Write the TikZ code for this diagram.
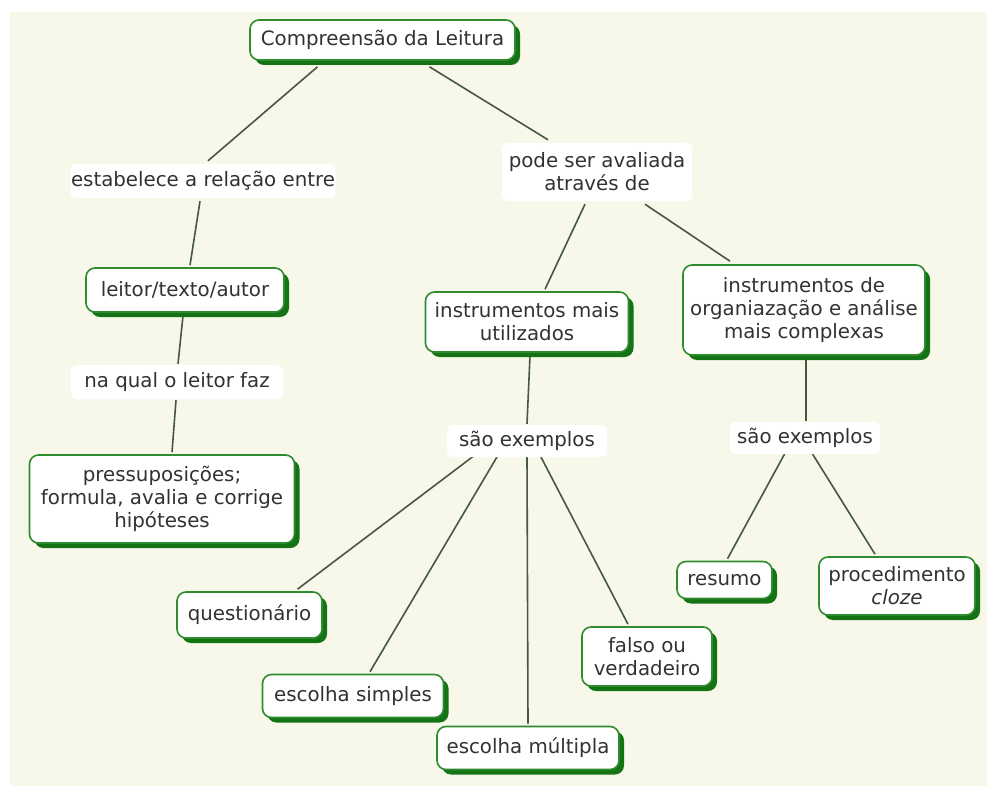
\documentclass[tikz,border=0pt]{standalone}
\usepackage{fontspec}
\setmainfont{DejaVu Sans}
\usetikzlibrary{shadows,calc,backgrounds}
\definecolor{cream}{RGB}{248,248,234}
\definecolor{bgreen}{RGB}{46,140,46}
\definecolor{sgreen}{RGB}{20,115,20}
\definecolor{lcol}{RGB}{70,88,64}
\definecolor{txt}{RGB}{50,50,50}
\tikzset{
  every node/.style={font=\fontsize{19.8}{23}\selectfont, text=txt, align=center, inner sep=0pt},
  concept/.style={draw=bgreen, line width=1.6pt, fill=white, rounded corners=9pt,
    drop shadow={shadow xshift=5pt, shadow yshift=-5pt, fill=sgreen, opacity=1}},
  linkph/.style={fill=white, rounded corners=6pt},
  conn/.style={draw=lcol, line width=1.6pt}
}
\begin{document}
\begin{tikzpicture}[x=1pt,y=-1pt]
\useasboundingbox (0,0) rectangle (990,789);
% concepts
\node[concept, minimum width=265pt, minimum height=40pt] (comp) at (382.5,40) {Compreensão da Leitura};
\node[concept, minimum width=198pt, minimum height=44pt] (leitor) at (185,290) {leitor/texto/autor};
\node[concept, minimum width=265pt, minimum height=88pt] (press) at (162,499) {pressuposições;\\formula, avalia e corrige\\hipóteses};
\node[concept, minimum width=203pt, minimum height=60pt] (imais) at (527,322) {instrumentos mais\\utilizados};
\node[concept, minimum width=242pt, minimum height=90pt] (iorg) at (804,310) {instrumentos de\\organiazação e análise\\mais complexas};
\node[concept, minimum width=145pt, minimum height=46pt] (quest) at (249.5,615) {questionário};
\node[concept, minimum width=181pt, minimum height=43pt] (esimp) at (353,696) {escolha simples};
\node[concept, minimum width=182pt, minimum height=43pt] (emult) at (528,748) {escolha múltipla};
\node[concept, minimum width=130pt, minimum height=59pt] (falso) at (647,656.5) {falso ou\\verdadeiro};
\node[concept, minimum width=95pt, minimum height=37pt] (resumo) at (724.5,580) {resumo};
\node[concept, minimum width=156pt, minimum height=58pt] (cloze) at (897,586) {procedimento\\\textit{cloze}};
% linking phrases
\node[linkph, minimum width=265pt, minimum height=34pt] (estab) at (203,181) {estabelece a relação entre};
\node[linkph, minimum width=190pt, minimum height=58pt] (pode) at (597,172) {pode ser avaliada\\através de};
\node[linkph, minimum width=212pt, minimum height=34pt] (naqual) at (177,382) {na qual o leitor faz};
\node[linkph, minimum width=160pt, minimum height=32pt] (se1) at (527,441) {são exemplos};
\node[linkph, minimum width=150pt, minimum height=32pt] (se2) at (805,438) {são exemplos};
\begin{pgfonlayer}{background}
\fill[cream] (10,12) rectangle (987,786);
\draw[conn] ($(comp.south)+(-65,6)$) -- ($(estab.north)+(5,-3)$);
\draw[conn] ($(comp.south)+(47,6)$) -- ($(pode.north)+(-49,-3)$);
\draw[conn] ($(estab.south)+(-3,3)$) -- ($(leitor.north)+(5,-2)$);
\draw[conn] ($(pode.south)+(-12,3)$) -- ($(imais.north)+(18,-2)$);
\draw[conn] ($(pode.south)+(48,3)$) -- ($(iorg.north)+(-74,-3)$);
\draw[conn] ($(leitor.south)+(-2,3)$) -- ($(naqual.north)+(1,-1)$);
\draw[conn] ($(naqual.south)+(-1,1)$) -- ($(press.north)+(10,-2)$);
\draw[conn] ($(imais.south)+(3,3)$) -- ($(se1.north)+(0,-1)$);
\draw[conn] ($(se1.south)+(-47,-6)$) -- ($(quest.north)+(48,-2)$);
\draw[conn] ($(se1.south)+(-29,-2)$) -- ($(esimp.north)+(17,-2)$);
\draw[conn] ($(se1.south)+(0,0)$) -- ($(emult.north)+(0,-2)$);
\draw[conn] ($(se1.south)+(13,-2)$) -- ($(falso.north)+(-19,-2)$);
\draw[conn] ($(iorg.south)+(2,3)$) -- ($(se2.north)+(1,-1)$);
\draw[conn] ($(se2.south)+(-20,-1)$) -- ($(resumo.north)+(3,-2)$);
\draw[conn] ($(se2.south)+(7,-1)$) -- ($(cloze.north)+(-22,-2)$);
\end{pgfonlayer}
\end{tikzpicture}
\end{document}
